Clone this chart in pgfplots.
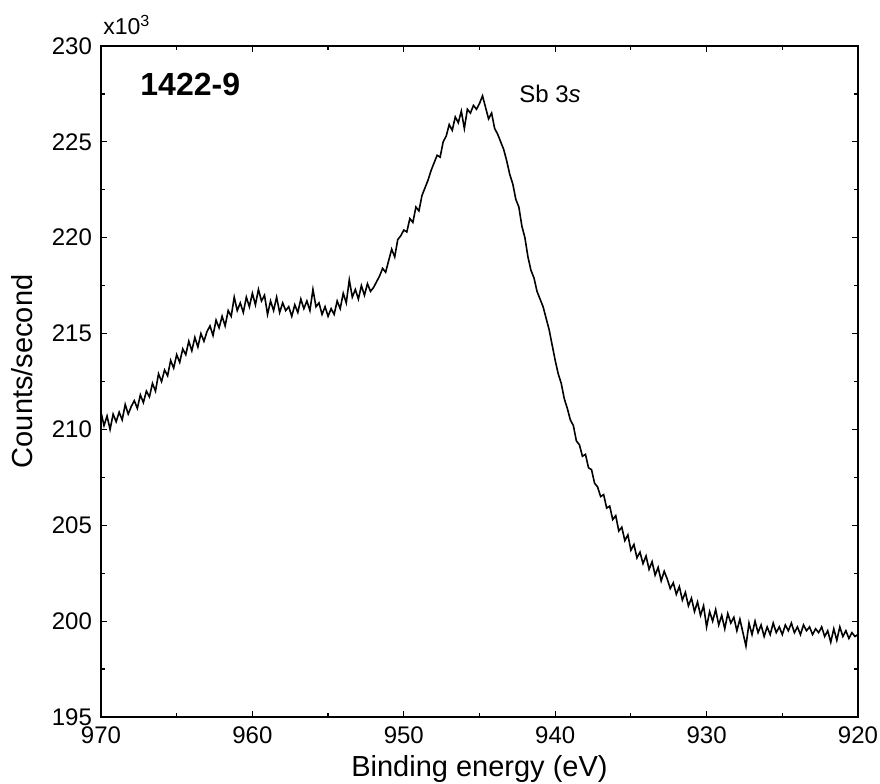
\documentclass[border=0pt]{standalone}
\usepackage{pgfplots}
\pgfplotsset{compat=1.18}
\usepackage{fontspec}
\setmainfont{Liberation Sans}
\begin{document}
\begin{tikzpicture}
\begin{axis}[
  name=ax,
  scale only axis,
  width=378.5pt, height=335.5pt,
  x dir=reverse,
  xmin=920, xmax=970, ymin=195, ymax=230,
  xtick={920,930,...,970}, ytick={195,200,...,230},
  minor x tick num=1, minor y tick num=1,
  tick align=inside, tick pos=both,
  xticklabel pos=lower, yticklabel pos=left,
  major tick length=3pt, minor tick length=1.8pt,
  axis line style={line width=0.7pt},
  every tick/.style={black, line width=0.6pt},
  /pgf/number format/assume math mode=true,
  ticklabel style={font=\fontsize{12}{14}\selectfont},
  yticklabel style={xshift=-1pt},
  xticklabel style={yshift=-1.5pt},
  xlabel={Binding energy (eV)},
  ylabel={Counts/second},
  every axis x label/.style={at={(rel axis cs:0.5,0)}, anchor=center, yshift=-26pt, font=\fontsize{14.5}{16}\selectfont},
  every axis y label/.style={at={(rel axis cs:0,0.515)}, anchor=center, rotate=90, yshift=39.5pt, font=\fontsize{14.5}{16}\selectfont},
  clip=true,
]
\addplot[black, line width=0.8pt] table {
970.0 210.9
969.8 210.2
969.6 210.7
969.4 210.0
969.2 210.8
969.0 210.4
968.8 210.9
968.6 210.5
968.4 211.3
968.2 210.8
968.0 211.2
967.8 211.5
967.6 211.1
967.4 211.8
967.2 211.4
967.0 212.0
966.8 211.7
966.6 212.4
966.4 212.0
966.2 212.9
966.0 212.5
965.8 213.1
965.6 212.8
965.4 213.6
965.2 213.2
965.0 213.9
964.8 213.5
964.6 214.2
964.4 213.9
964.2 214.6
964.0 214.1
963.8 214.8
963.6 214.3
963.4 215.0
963.2 214.6
963.0 215.1
962.8 215.4
962.6 214.9
962.4 215.7
962.2 215.3
962.0 215.9
961.8 215.4
961.6 216.2
961.4 215.9
961.2 216.9
961.0 216.2
960.8 216.6
960.6 216.1
960.4 216.9
960.2 216.4
960.0 217.1
959.8 216.5
959.6 217.3
959.4 216.7
959.2 217.0
959.0 216.0
958.8 216.7
958.6 216.2
958.4 216.9
958.2 216.1
958.0 216.6
957.8 216.2
957.6 216.4
957.4 215.9
957.2 216.5
957.0 216.1
956.8 216.8
956.6 216.3
956.4 216.7
956.2 216.2
956.0 217.3
955.8 216.4
955.6 216.6
955.4 216.0
955.2 216.4
955.0 215.9
954.8 216.3
954.6 216.0
954.4 216.7
954.2 216.3
954.0 217.1
953.8 216.6
953.6 217.8
953.4 216.9
953.2 217.3
953.0 216.8
952.8 217.5
952.6 217.0
952.4 217.6
952.2 217.2
952.0 217.4
951.8 217.7
951.6 218.0
951.4 218.4
951.2 218.2
951.0 218.8
950.8 219.4
950.6 219.0
950.4 219.9
950.2 220.1
950.0 220.4
949.8 220.3
949.6 221.0
949.4 220.8
949.2 221.6
949.0 221.4
948.8 222.2
948.6 222.6
948.4 223.0
948.2 223.5
948.0 223.9
947.8 224.3
947.6 224.2
947.4 225.0
947.2 225.3
947.0 225.9
946.8 225.6
946.6 226.3
946.4 226.0
946.2 226.6
946.0 225.7
945.8 226.7
945.6 226.5
945.4 226.9
945.2 226.7
945.0 227.0
944.8 227.4
944.6 226.8
944.4 226.2
944.2 226.5
944.0 225.7
943.8 225.4
943.6 225.0
943.4 224.6
943.2 224.0
943.0 223.3
942.8 222.8
942.6 222.0
942.4 221.6
942.2 220.6
942.0 220.0
941.8 219.0
941.6 218.3
941.4 217.9
941.2 217.2
941.0 216.8
940.8 216.4
940.6 215.8
940.4 215.2
940.2 214.4
940.0 213.6
939.8 212.9
939.6 212.4
939.4 211.6
939.2 211.1
939.0 210.5
938.8 210.2
938.6 209.4
938.4 209.2
938.2 208.6
938.0 208.7
937.8 208.0
937.6 207.9
937.4 207.2
937.2 207.0
937.0 206.5
936.8 206.6
936.6 205.9
936.4 206.0
936.2 205.3
936.0 205.5
935.8 204.7
935.6 204.9
935.4 204.2
935.2 204.5
935.0 203.7
934.8 204.0
934.6 203.3
934.4 203.6
934.2 203.0
934.0 203.4
933.8 202.7
933.6 203.1
933.4 202.4
933.2 202.8
933.0 202.1
932.8 202.6
932.6 202.2
932.4 201.7
932.2 202.0
932.0 201.4
931.8 201.8
931.6 201.1
931.4 201.5
931.2 200.8
931.0 201.2
930.8 200.5
930.6 201.0
930.4 200.3
930.2 200.8
930.0 199.7
929.8 200.5
929.6 200.0
929.4 200.6
929.2 199.8
929.0 200.3
928.8 199.6
928.6 200.4
928.4 199.9
928.2 200.2
928.0 199.5
927.8 200.1
927.6 199.4
927.4 198.7
927.2 199.9
927.0 199.3
926.8 200.0
926.6 199.4
926.4 199.8
926.2 199.2
926.0 199.7
925.8 199.3
925.6 199.9
925.4 199.4
925.2 199.7
925.0 199.3
924.8 199.8
924.6 199.5
924.4 199.9
924.2 199.4
924.0 199.7
923.8 199.3
923.6 199.8
923.4 199.5
923.2 199.7
923.0 199.3
922.8 199.6
922.6 199.4
922.4 199.7
922.2 199.2
922.0 199.5
921.8 198.9
921.6 199.6
921.4 199.0
921.2 199.7
921.0 199.2
920.8 199.5
920.6 199.1
920.4 199.4
920.2 199.2
920.0 199.3
};
\node[anchor=west, inner sep=0pt, font=\bfseries\fontsize{16}{18}\selectfont] at (axis cs:967.42,228.0) {1422-9};
\node[anchor=center, inner sep=0pt, font=\fontsize{12}{14}\selectfont] at (axis cs:940.34,227.5) {Sb 3\textit{s}};
\end{axis}
\node[anchor=base west, inner sep=0pt, font=\fontsize{11.5}{13}\selectfont] at ([xshift=1pt, yshift=5.5pt]ax.north west) {x10$^{\mathrm{3}}$};
\pgfresetboundingbox
\path[use as bounding box] ([shift={(-50.5pt,-33.5pt)}]ax.south west) rectangle ([shift={(11pt,23pt)}]ax.north east);
\end{tikzpicture}
\end{document}
